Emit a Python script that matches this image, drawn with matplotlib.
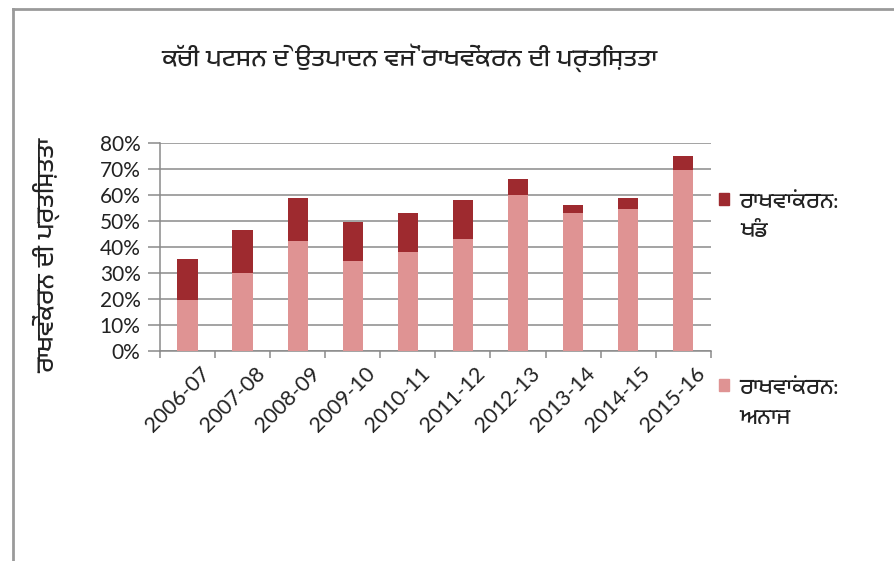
import matplotlib
matplotlib.use('Agg')
import matplotlib.pyplot as plt
import matplotlib.transforms as mtransforms
import numpy as np
from matplotlib import font_manager
from matplotlib.lines import Line2D
from matplotlib.patches import Patch

years = ['2006-07', '2007-08', '2008-09', '2009-10', '2010-11',
         '2011-12', '2012-13', '2013-14', '2014-15', '2015-16']
anaj = [19.5, 30, 42.5, 34.5, 38, 43, 60, 53, 54.5, 69.5]
khand = [16, 16.5, 16.5, 15, 15, 15, 6, 3, 4.5, 5.5]

title = 'ਕੱਚੀ ਪਟਸਨ ਦੇ ਉਤਪਾਦਨ ਵਜੋਂ ਰਾਖਵੇਂਕਰਨ ਦੀ ਪ੍ਰਤਿਸ਼ਤਤਾ'
ylab = 'ਰਾਖਵੇਂਕਰਨ ਦੀ ਪ੍ਰਤਿਸ਼ਤਤਾ'
lab_khand = 'ਰਾਖਵਾਂਕਰਨ:\nਖੰਡ'
lab_anaj = 'ਰਾਖਵਾਂਕਰਨ:\nਅਨਾਜ'

# look for any font that covers Gurmukhi
names = sorted(set(f.name for f in font_manager.fontManager.ttflist))
guru = [n for n in names if 'Gurmukhi' in n or 'Lohit' in n or 'Raavi' in n or 'Saab' in n]
plt.rcParams['font.family'] = guru + ['DejaVu Sans']

c_dark = '#9e2a2f'
c_light = '#df9393'
grid_c = '#8a8a8a'
txt_c = '#222222'

fig = plt.figure(figsize=(8.94, 5.61), dpi=100)
ax = fig.add_axes([0.179, 0.3743, 0.616, 0.3707])

x = np.arange(len(years))
ax.bar(x, np.array(anaj) / 100, width=0.37, color=c_light, zorder=3)
ax.bar(x, np.array(khand) / 100, width=0.37, bottom=np.array(anaj) / 100,
       color=c_dark, zorder=3)

ax.set_xlim(-0.5, len(years) - 0.5)
ax.set_ylim(0, 0.8)
yt = np.arange(0, 0.81, 0.1)
ax.set_yticks(yt)
ax.set_yticklabels([f'{int(round(v * 100))}%' for v in yt], fontsize=15,
                   family=['Lato', 'DejaVu Sans'], color=txt_c)
ax.yaxis.grid(True, color=grid_c, linewidth=1.1, zorder=0)
ax.tick_params(axis='y', length=8.5, color=grid_c, width=1.1, pad=5.5)

ax.set_xticks(x)
ax.set_xticklabels(years, rotation=45, ha='right', rotation_mode='anchor',
                   fontsize=15.5, family=['Lato', 'DejaVu Sans'], color=txt_c)
ax.tick_params(axis='x', length=0, pad=9)
shift = mtransforms.ScaledTranslation(12 / 100, 0, fig.dpi_scale_trans)
for lab in ax.get_xticklabels():
    lab.set_transform(lab.get_transform() + shift)
ax.set_xticks(np.arange(-0.5, len(years)), minor=True)
ax.tick_params(axis='x', which='minor', length=5, color=grid_c, width=1.1)

for s in ['top', 'right']:
    ax.spines[s].set_visible(False)
for s in ['left', 'bottom']:
    ax.spines[s].set_color(grid_c)
    ax.spines[s].set_linewidth(1.1)

fig.text(0.458, 0.897, title, fontsize=18, ha='center', va='center', color=txt_c)
fig.text(0.052, 0.545, ylab, fontsize=18, rotation=90, ha='center', va='center', color=txt_c)

handles = [Patch(color=c_dark), Patch(color=c_light)]
leg = fig.legend(handles, [lab_khand, lab_anaj], loc='upper left',
                 bbox_to_anchor=(0.794, 0.672), frameon=False, fontsize=16,
                 handlelength=0.45, handleheight=0.45, handletextpad=0.5,
                 labelspacing=6.2, borderaxespad=0)
for t in leg.get_texts():
    t.set_linespacing(1.7)
    t.set_color(txt_c)
# put the colour square next to the first line of each label
for col in leg._legend_handle_box.get_children():
    for row in col.get_children():
        row.align = 'top'

# outer chart frame
fig.add_artist(Line2D([0.0145, 1.0], [0.984, 0.984], color='#9a9a9a', linewidth=2, transform=fig.transFigure))
fig.add_artist(Line2D([0.0145, 0.0145], [0.0, 0.984], color='#9a9a9a', linewidth=2, transform=fig.transFigure))

fig.savefig('out.png', dpi=100)
